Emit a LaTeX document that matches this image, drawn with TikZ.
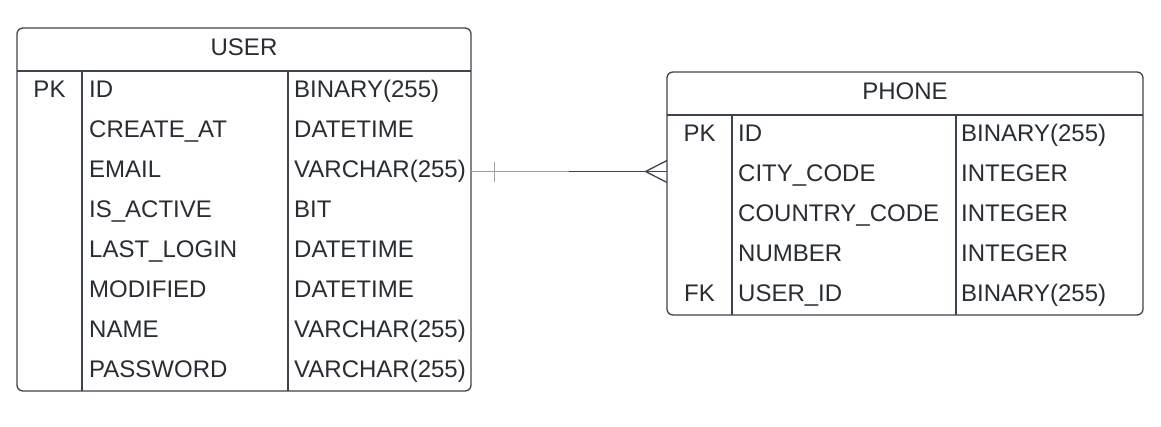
\documentclass[tikz,border=0pt]{standalone}
\usepackage{fontspec}
\setmainfont{Liberation Sans}
\usetikzlibrary{calc}
\definecolor{ln}{HTML}{3D444D}
\definecolor{tx}{HTML}{282C33}
\definecolor{lg}{HTML}{A0A0A0}
\tikzset{
  tbl/.style={draw=ln, line width=1.3pt, rounded corners=6pt},
  gridln/.style={draw=ln, line width=1.3pt},
  cell/.style={inner sep=0pt, anchor=base west, text=tx, font=\fontsize{24}{28}\selectfont},
  keycell/.style={cell, anchor=base},
  headcell/.style={cell, anchor=base},
  relline/.style={draw=lg, line width=1pt},
  reldark/.style={draw=ln, line width=1.3pt},
}
\begin{document}
\begin{tikzpicture}[x=1pt,y=-1pt]
\useasboundingbox (0,0) rectangle (1161,426);
% USER table
\draw[tbl] (17,28) rectangle (471,391);
\draw[gridln] (17,71) -- (471,71);
\draw[gridln] (82,71) -- (82,391);
\draw[gridln] (288,71) -- (288,391);
\node[headcell] (uhead) at (244,55) {USER};
\node[keycell] (ukey1) at (49.5,97) {PK};
\foreach \n/\t [count=\i from 0] in {ID/BINARY(255), CREATE\_AT/DATETIME, EMAIL/VARCHAR(255), IS\_ACTIVE/BIT, LAST\_LOGIN/DATETIME, MODIFIED/DATETIME, NAME/VARCHAR(255), PASSWORD/VARCHAR(255)}{
  \node[cell] (un\i) at (89,97+40*\i) {\n};
  \node[cell] (ut\i) at (294,97+40*\i) {\t};
}
% PHONE table
\draw[tbl] (667,72) rectangle (1143,315);
\draw[gridln] (667,115) -- (1143,115);
\draw[gridln] (732,115) -- (732,315);
\draw[gridln] (956,115) -- (956,315);
\node[headcell] (phead) at (905,99) {PHONE};
\node[keycell] (pkey1) at (699.5,141.5) {PK};
\node[keycell] (pkey5) at (699.5,301.5) {FK};
\foreach \n/\t [count=\i from 0] in {ID/BINARY(255), CITY\_CODE/INTEGER, COUNTRY\_CODE/INTEGER, NUMBER/INTEGER, USER\_ID/BINARY(255)}{
  \node[cell] (pn\i) at (738,141.5+40*\i) {\n};
  \node[cell] (pt\i) at (961,141.5+40*\i) {\t};
}
% relationship
\coordinate (ua) at (471,171.5);
\coordinate (pa) at (667,171.5);
\coordinate (mid) at (569,171.5);
\coordinate (tip) at (645.5,171.5);
\draw[relline] (ua) -- (mid);
\draw[relline] ($(ua)+(23,-10)$) -- ($(ua)+(23,10)$);
\draw[reldark] (mid) -- (pa);
\draw[reldark] ($(pa)+(0,-11)$) -- (tip) -- ($(pa)+(0,11)$);
\end{tikzpicture}
\end{document}
